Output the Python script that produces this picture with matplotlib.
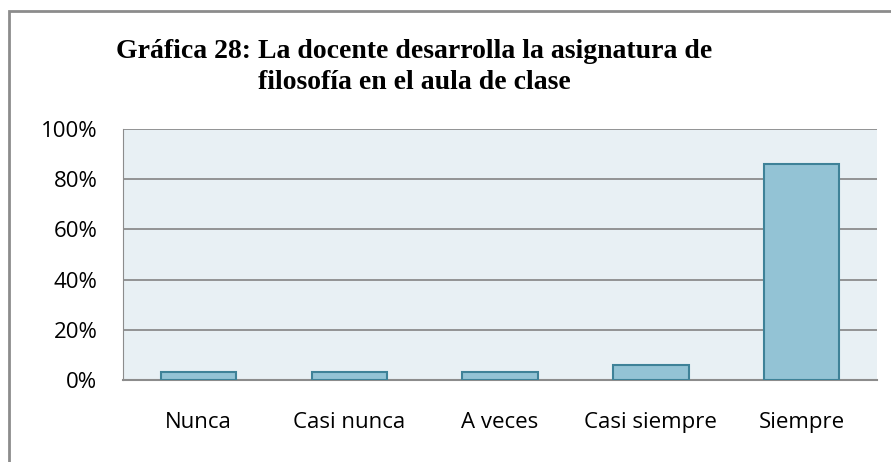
import matplotlib.pyplot as plt
from matplotlib.patches import Rectangle
from matplotlib.ticker import PercentFormatter

categories = ["Nunca", "Casi nunca", "A veces", "Casi siempre", "Siempre"]
values = [3, 3, 3, 6, 86]  # percent
yticks = [0, 20, 40, 60, 80, 100]
title_lines = ["Gráfica 28: La docente desarrolla la asignatura de",
               "filosofía en el aula de clase"]

W, H = 891, 462
fig = plt.figure(figsize=(W / 100, H / 100), dpi=100)

# outer frame of the chart (open at right and bottom, like the cropped original)
fig.add_artist(Rectangle((9 / W, -0.05), 1.1, 1.05 - 11 / H, transform=fig.transFigure,
                         fill=False, edgecolor="#8c8c8c", linewidth=2))

ax = fig.add_axes([123 / W, 1 - 380 / H, (877 - 123) / W, (380 - 129) / H])
ax.set_facecolor("#e8f0f4")

x = range(len(categories))
ax.bar(x, values, width=0.5, color="#93c3d5", edgecolor="#3e8298", linewidth=1.5, zorder=3)

ax.set_xlim(-0.5, len(categories) - 0.5)
ax.set_ylim(0, 100)
ax.set_yticks(yticks)
ax.yaxis.set_major_formatter(PercentFormatter(decimals=0))
ax.grid(axis="y", color="#8c8c8c", linewidth=1.3, zorder=1)

for s in ["top", "right"]:
    ax.spines[s].set_visible(False)
ax.spines["left"].set_color("#8c8c8c")
ax.spines["bottom"].set_color("#8c8c8c")
ax.spines["bottom"].set_linewidth(1.5)
ax.tick_params(axis="both", length=0, labelsize=16)
ax.tick_params(axis="y", pad=18.5)
ax.tick_params(axis="x", pad=23)
ax.set_xticks(list(x))
ax.set_xticklabels(categories)
for lab in ax.get_xticklabels() + ax.get_yticklabels():
    lab.set_fontfamily("Open Sans")

# title, two centred lines
for txt, base in zip(title_lines, [58, 89]):
    fig.text(414 / W, 1 - base / H, txt, ha="center", va="baseline",
             fontsize=20, fontweight="bold", family="Liberation Serif")

fig.savefig("out.png", dpi=100)
